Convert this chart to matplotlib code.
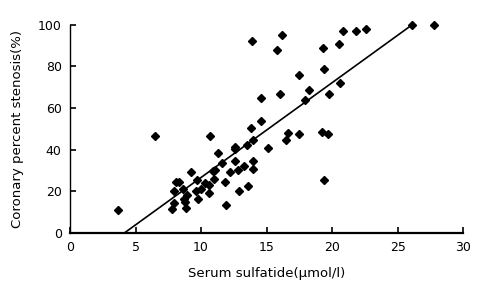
import matplotlib
matplotlib.use('Agg')
import matplotlib.pyplot as plt

# serum sulfatide (umol/l) vs coronary percent stenosis (%)
sulfatide = [3.7, 6.5, 7.8, 7.9, 7.9, 8.1, 8.3, 8.6, 8.7, 8.8, 8.85, 8.9,
             9.2, 9.6, 9.7, 9.8, 10.0, 10.3, 10.6, 10.6, 10.7, 10.9, 11.0,
             11.1, 11.3, 11.6, 11.8, 11.9, 12.2, 12.6, 12.6, 12.6, 12.85,
             12.9, 13.3, 13.5, 13.6, 13.8, 13.9, 14.0, 14.0, 14.0, 14.6,
             14.6, 15.1, 15.8, 16.0, 16.2, 16.5, 16.6, 17.5, 17.5, 17.9,
             18.2, 19.2, 19.3, 19.4, 19.4, 19.7, 19.8, 20.5, 20.6, 20.8,
             21.8, 22.6, 26.1, 27.8]
stenosis = [10.8, 46.5, 11.4, 14.3, 20.4, 24.5, 24.5, 21.2, 16.2, 15.0,
            12.0, 18.4, 29.3, 20.3, 25.5, 16.2, 21.3, 24.2, 22.9, 19.1,
            46.5, 29.8, 25.8, 30.3, 38.3, 33.5, 24.4, 13.5, 29.3, 41.5,
            40.3, 34.5, 30.3, 20.4, 32.4, 42.3, 22.6, 50.6, 92.1, 44.7,
            34.5, 30.6, 53.7, 64.9, 40.7, 88.0, 66.7, 95.2, 44.7, 48.0,
            47.6, 76.0, 64.0, 68.8, 48.7, 89.0, 78.8, 25.3, 47.6, 66.7,
            90.9, 72.0, 97.0, 97.0, 97.9, 100.0, 100.0]

# trend line end points
line_x = [4.15, 26.1]
line_y = [0, 100]

fig = plt.figure(figsize=(4.86, 2.96), dpi=100)
ax = fig.add_axes([0.144, 0.213, 0.809, 0.703])

ax.plot(line_x, line_y, color='black', lw=1.2)
ax.plot(sulfatide, stenosis, 'D', color='black', markersize=4.3, clip_on=False)

ax.set_xlim(0, 30)
ax.set_ylim(0, 100)
ax.set_xticks([0, 5, 10, 15, 20, 25, 30])
ax.set_yticks([0, 20, 40, 60, 80, 100])

for s in ['top', 'right']:
    ax.spines[s].set_visible(False)
ax.spines['left'].set_linewidth(1.0)
ax.spines['bottom'].set_linewidth(1.6)
ax.tick_params(direction='in', length=4, width=1.2, labelsize=9, pad=6)

ax.set_xlabel('Serum sulfatide(\u03bcmol/l)', fontsize=9.5, labelpad=9)
ax.set_ylabel('Coronary percent stenosis(%)', fontsize=9.5, labelpad=10)

fig.savefig('out.png', dpi=100)
